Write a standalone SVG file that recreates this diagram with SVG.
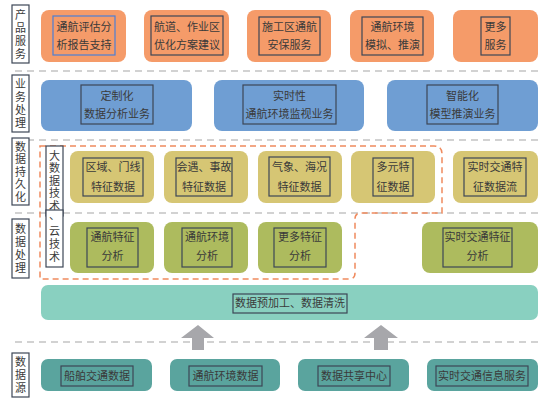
<svg xmlns="http://www.w3.org/2000/svg" width="555" height="405" viewBox="0 0 555 405">
<style>
text{font-family:"Noto Sans CJK SC","Liberation Sans",sans-serif;font-size:11px;fill:#3a3a3a;text-anchor:middle}
.v{writing-mode:vertical-rl;text-orientation:upright;font-size:11px}
.v1{letter-spacing:1.5px}.v2{letter-spacing:2px}
.lb{fill:#fff;stroke:#3d4656;stroke-width:1.2}
.in{fill:none;stroke:#3d4656;stroke-width:1.2}
.o{fill:#F59B69}.b{fill:#6F9ED3}.k{fill:#D6C674}.g{fill:#ADBB5E}.m{fill:#89D0C0}.t{fill:#5AA49E}
.sep{stroke:#C4C4C4;stroke-width:1.5;stroke-dasharray:7 5;fill:none}
.od{stroke:#F08A5D;stroke-width:1.5;stroke-dasharray:6 4;fill:none}
.arr{fill:#A7A7AB}
</style>
<g id="separators">
<line class="sep" x1="15" y1="71" x2="538" y2="71"/>
<line class="sep" x1="15" y1="140" x2="538" y2="140"/>
<line class="sep" x1="15" y1="213" x2="538" y2="213"/>
<line class="sep" x1="15" y1="342" x2="538" y2="342"/>
</g>
<g id="labels">
<rect class="lb" x="12" y="5" width="17" height="58"/>
<text class="v v2" x="20.5" y="35">产品服务</text>
<rect class="lb" x="12" y="75" width="17" height="57"/>
<text class="v v2" x="20.5" y="104.5">业务处理</text>
<rect class="lb" x="12" y="138" width="17" height="67"/>
<text class="v v1" x="20.5" y="172.5">数据持久化</text>
<rect class="lb" x="12" y="219" width="17" height="59"/>
<text class="v v2" x="20.5" y="249.5">数据处理</text>
<rect class="lb" x="12" y="353" width="17" height="44"/>
<text class="v v2" x="20.5" y="376">数据源</text>
</g>
<g id="region">
<path class="od" d="M40 146 H434 Q442 146 442 154 V213 H361 Q355 213 355 219 V273 Q355 279 349 279 H40 Z"/>
</g>
<g id="tech">
<rect class="lb" x="46" y="146" width="17" height="70"/>
<text class="v v1" x="54.5" y="181.5">大数据技术</text>
<rect class="lb" x="46" y="210" width="17" height="57"/>
<text x="54.5" y="219">、</text>
<text class="v v2" x="54.5" y="244.5">云技术</text>
</g>
<g id="p1"><rect class="o" x="41" y="10" width="85" height="52" rx="8"/><rect x="53" y="16" width="62" height="39" fill="none" stroke="#4A7FD8" stroke-width="1.2"/><text><tspan x="84" y="31">通航评估分</tspan><tspan x="84" y="49">析报告支持</tspan></text></g>
<g id="p2"><rect class="o" x="144" y="10" width="85" height="52" rx="8"/><rect class="in" x="151" y="16" width="72" height="39"/><text><tspan x="187" y="31">航道、作业区</tspan><tspan x="187" y="49">优化方案建议</tspan></text></g>
<g id="p3"><rect class="o" x="247" y="10" width="84" height="52" rx="8"/><rect class="in" x="259" y="17" width="61" height="38"/><text><tspan x="289.5" y="31">施工区通航</tspan><tspan x="289.5" y="49">安保服务</tspan></text></g>
<g id="p4"><rect class="o" x="350" y="10" width="84" height="52" rx="8"/><rect class="in" x="362" y="17" width="61" height="38"/><text><tspan x="392.5" y="31">通航环境</tspan><tspan x="392.5" y="49">模拟、推演</tspan></text></g>
<g id="p5"><rect class="o" x="453" y="10" width="85" height="52" rx="8"/><rect class="in" x="481" y="17" width="29" height="38"/><text><tspan x="495.5" y="31">更多</tspan><tspan x="495.5" y="49">服务</tspan></text></g>
<g id="b1"><rect class="b" x="41" y="80" width="151" height="51" rx="8"/><rect class="in" x="81" y="85" width="72" height="39"/><text><tspan x="117" y="100">定制化</tspan><tspan x="117" y="118">数据分析业务</tspan></text></g>
<g id="b2"><rect class="b" x="214" y="80" width="150" height="51" rx="8"/><rect class="in" x="243" y="85" width="93" height="39"/><text><tspan x="289.5" y="100">实时性</tspan><tspan x="289.5" y="118">通航环境监视业务</tspan></text></g>
<g id="b3"><rect class="b" x="387" y="80" width="151" height="51" rx="8"/><rect class="in" x="427" y="85" width="71" height="39"/><text><tspan x="462.5" y="100">智能化</tspan><tspan x="462.5" y="118">模型推演业务</tspan></text></g>
<g id="k1"><rect class="k" x="70" y="151" width="84" height="52" rx="8"/><rect class="in" x="83" y="158" width="60" height="38"/><text><tspan x="113" y="171">区域、门线</tspan><tspan x="113" y="191">特征数据</tspan></text></g>
<g id="k2"><rect class="k" x="164" y="151" width="84" height="52" rx="8"/><rect class="in" x="176" y="158" width="56" height="38"/><text><tspan x="204" y="171">会遇、事故</tspan><tspan x="204" y="191">特征数据</tspan></text></g>
<g id="k3"><rect class="k" x="258" y="151" width="84" height="52" rx="8"/><rect class="in" x="269" y="157" width="61" height="39"/><text><tspan x="299.5" y="171">气象、海况</tspan><tspan x="299.5" y="191">特征数据</tspan></text></g>
<g id="k4"><rect class="k" x="351" y="151" width="84" height="52" rx="8"/><rect class="in" x="373" y="158" width="40" height="38"/><text><tspan x="393" y="171">多元特</tspan><tspan x="393" y="191">征数据</tspan></text></g>
<g id="k5"><rect class="k" x="453" y="151" width="85" height="52" rx="8"/><rect class="in" x="464" y="158" width="62" height="38"/><text><tspan x="495" y="171">实时交通特</tspan><tspan x="495" y="191">征数据流</tspan></text></g>
<g id="g1"><rect class="g" x="70" y="222" width="84" height="51" rx="8"/><rect class="in" x="87" y="228" width="51" height="39"/><text><tspan x="112.5" y="241">通航特征</tspan><tspan x="112.5" y="260">分析</tspan></text></g>
<g id="g2"><rect class="g" x="164" y="222" width="84" height="51" rx="8"/><rect class="in" x="182" y="228" width="50" height="39"/><text><tspan x="207" y="241">通航环境</tspan><tspan x="207" y="260">分析</tspan></text></g>
<g id="g3"><rect class="g" x="258" y="222" width="84" height="51" rx="8"/><rect class="in" x="274" y="228" width="52" height="39"/><text><tspan x="300" y="241">更多特征</tspan><tspan x="300" y="260">分析</tspan></text></g>
<g id="g4"><rect class="g" x="422" y="222" width="116" height="51" rx="8"/><rect class="in" x="443" y="228" width="69" height="39"/><text><tspan x="477.5" y="241">实时交通特征</tspan><tspan x="477.5" y="260">分析</tspan></text></g>
<g id="m1"><rect class="m" x="41" y="285" width="497" height="35" rx="7"/><rect class="in" x="233" y="294" width="114" height="19"/><text x="290" y="307">数据预加工、数据清洗</text></g>
<g id="connectors">
<polygon class="arr" points="198,325 214,338 204,338 204,350 192,350 192,338 181,338"/>
<polygon class="arr" points="381,325 398,338 388,338 388,350 374,350 374,338 364,338"/>
</g>
<g id="s1"><rect class="t" x="41" y="359" width="111" height="32" rx="7"/><rect class="in" x="61" y="366" width="72" height="20"/><text x="97" y="380">船舶交通数据</text></g>
<g id="s2"><rect class="t" x="170" y="359" width="110" height="32" rx="7"/><rect class="in" x="189" y="366" width="73" height="20"/><text x="225.5" y="380">通航环境数据</text></g>
<g id="s3"><rect class="t" x="298" y="359" width="111" height="32" rx="7"/><rect class="in" x="318" y="366" width="72" height="20"/><text x="354" y="380">数据共享中心</text></g>
<g id="s4"><rect class="t" x="427" y="359" width="111" height="32" rx="7"/><rect class="in" x="436" y="366" width="92" height="20"/><text x="482" y="380">实时交通信息服务</text></g>
</svg>
